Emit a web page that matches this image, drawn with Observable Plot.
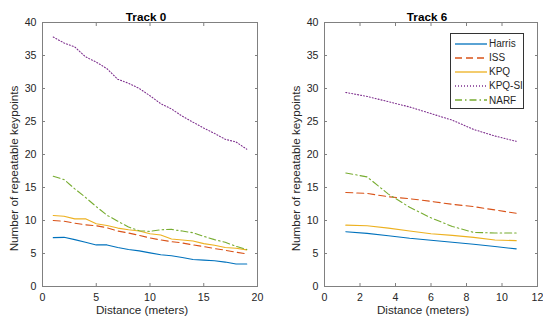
<!DOCTYPE html>
<html><head><meta charset="utf-8">
<script src="https://cdn.jsdelivr.net/npm/d3@7"></script>
<script src="https://cdn.jsdelivr.net/npm/@observablehq/plot@0.6"></script>
<style>
body{margin:0;background:#fff;}
#wrap{position:relative;width:543px;height:322px;display:flex;font-family:"Liberation Sans",Arial,sans-serif;}
#legend{position:absolute;left:450px;top:33px;width:72px;height:74px;border:1px solid #333;background:#fff;}
.row{position:absolute;left:0;height:14px;display:flex;align-items:center;font-size:10px;color:#262626;white-space:nowrap}
.row svg{margin-left:4px;margin-right:2px}
</style></head><body><div id="wrap"></div>
<script>
// Series definitions
const seriesNames = ["Harris", "ISS", "KPQ", "KPQ-SI", "NARF"];
const seriesColors = ["#0072BD", "#D95319", "#EDB120", "#7E2F8E", "#77AC30"];
const seriesDash = [null, "7,4", null, "1,2", "7,3,1.5,3"];

// Track 0
const distance0 = [1, 2, 3, 4, 5, 6, 7, 8, 9, 10, 11, 12, 13, 14, 15, 16, 17, 18, 19];
const harris0 = [7.4, 7.45, 7.1, 6.7, 6.3, 6.3, 5.9, 5.6, 5.4, 5.1, 4.8, 4.65, 4.4, 4.1, 4.0, 3.9, 3.7, 3.4, 3.4];
const iss0 = [10.0, 9.9, 9.6, 9.35, 9.2, 8.9, 8.4, 8.1, 7.75, 7.35, 7.05, 6.8, 6.6, 6.3, 6.05, 5.75, 5.5, 5.2, 4.95];
const kpq0 = [10.75, 10.65, 10.25, 10.25, 9.5, 9.25, 8.85, 8.6, 8.4, 8.0, 7.8, 7.2, 7.05, 6.9, 6.5, 6.25, 5.9, 5.8, 5.55];
const kpqsi0 = [37.8, 36.9, 36.3, 34.8, 34.0, 33.0, 31.4, 30.8, 30.0, 28.9, 27.7, 26.9, 25.8, 24.9, 24.0, 23.2, 22.3, 21.9, 20.8];
const narf0 = [16.7, 16.2, 14.8, 13.5, 12.1, 10.8, 9.9, 9.0, 8.45, 8.35, 8.6, 8.65, 8.4, 8.15, 7.6, 7.1, 6.7, 6.1, 5.6];

// Track 6
const distance6 = [1.2, 2.4, 3.6, 4.8, 6.0, 7.2, 8.4, 9.6, 10.8];
const harris6 = [8.3, 8.05, 7.7, 7.3, 7.0, 6.7, 6.4, 6.05, 5.7];
const iss6 = [14.25, 14.1, 13.6, 13.3, 12.9, 12.45, 12.1, 11.6, 11.1];
const kpq6 = [9.3, 9.2, 8.85, 8.4, 8.0, 7.75, 7.45, 7.05, 6.95];
const kpqsi6 = [29.4, 28.8, 28.0, 27.2, 26.2, 25.2, 23.8, 22.8, 22.0];
const narf6 = [17.2, 16.6, 14.0, 12.0, 10.4, 9.1, 8.2, 8.1, 8.1];

// Axes
const yTicks = [0, 5, 10, 15, 20, 25, 30, 35, 40];
const xTicks0 = [0, 5, 10, 15, 20];
const xTicks6 = [0, 2, 4, 6, 8, 10, 12];
const titles = ["Track 0", "Track 6"];
const xLabel = "Distance (meters)";
const yLabel = "Number of repeatable keypoints";

const axisColor = "#808080";
const textColor = "#262626";
const font = "'Liberation Sans', Arial, sans-serif";

function panel({title, xs, ys, xDomain, xTicks, width, marginLeft, marginRight}) {
  const lines = ys.map((vals, i) => {
    const rows = xs.map((d, j) => ({d, v: vals[j]}));
    return Plot.line(rows, {x: "d", y: "v", stroke: seriesColors[i], strokeWidth: 1.1,
      strokeDasharray: seriesDash[i] || undefined});
  });
  return Plot.plot({
    width, height: 322, marginLeft, marginRight, marginTop: 22, marginBottom: 36,
    style: {fontFamily: font, fontSize: "10.6px", color: textColor, background: "white", overflow: "visible"},
    x: {domain: xDomain, label: null},
    y: {domain: [0, 40], label: null},
    marks: [
      Plot.frame({stroke: axisColor}),
      Plot.axisX(xTicks, {anchor: "bottom", tickSize: -3, tickPadding: 10, stroke: axisColor, fill: textColor, label: null}),
      Plot.axisX(xTicks, {anchor: "top", tickSize: -3, stroke: axisColor, fill: "none", label: null}),
      Plot.axisY(yTicks, {anchor: "left", tickSize: -3, tickPadding: 9, stroke: axisColor, fill: textColor, label: null}),
      Plot.axisY(yTicks, {anchor: "right", tickSize: -3, stroke: axisColor, fill: "none", label: null}),
      ...lines,
      Plot.text([title], {text: d => d, frameAnchor: "top", textAnchor: "middle", dy: -10, dx: -4, fontWeight: "bold", fontSize: 11.7, fill: "#000"}),
      Plot.text([xLabel], {text: d => d, frameAnchor: "bottom", textAnchor: "middle", dy: 27, dx: -8, fontSize: 11.7, fill: textColor}),
      Plot.text([yLabel], {text: d => d, frameAnchor: "left", textAnchor: "middle", rotate: -90, dx: -28, dy: 14, fontSize: 11.7, fill: textColor})
    ]
  });
}

const wrap = document.getElementById("wrap");
wrap.appendChild(panel({title: titles[0], xs: distance0, ys: [harris0, iss0, kpq0, kpqsi0, narf0],
  xDomain: [0, 20], xTicks: xTicks0, width: 271, marginLeft: 42, marginRight: 14}));
wrap.appendChild(panel({title: titles[1], xs: distance6, ys: [harris6, iss6, kpq6, kpqsi6, narf6],
  xDomain: [0, 12], xTicks: xTicks6, width: 272, marginLeft: 53, marginRight: 6}));

// Legend
const legend = document.createElement("div");
legend.id = "legend";
seriesNames.forEach((name, i) => {
  const row = document.createElement("div");
  row.className = "row";
  row.style.top = (2.5 + i * 14.15) + "px";
  const svg = `<svg width="32" height="14"><line x1="0" x2="32" y1="7" y2="7" stroke="${seriesColors[i]}" stroke-width="1.3"${seriesDash[i] ? ` stroke-dasharray="${seriesDash[i]}"` : ""}/></svg>`;
  row.innerHTML = svg + `<span>${name}</span>`;
  legend.appendChild(row);
});
wrap.appendChild(legend);
</script>
</body></html>
